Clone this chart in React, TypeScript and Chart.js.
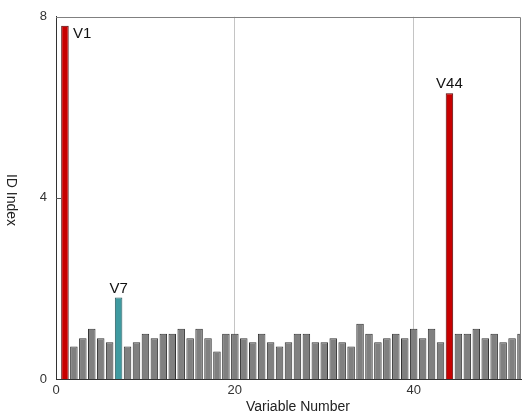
import React, { useEffect, useRef } from "react";
import { Chart, registerables } from "chart.js";

Chart.register(...registerables);

const variables: number[] = Array.from({ length: 52 }, (_, i) => i + 1);
const idIndex: number[] = [
  7.8, 0.72, 0.9, 1.11, 0.9, 0.81, 1.8, 0.72, 0.81, 1.0,
  0.9, 1.0, 1.0, 1.11, 0.9, 1.11, 0.9, 0.61, 1.0, 1.0,
  0.9, 0.81, 1.0, 0.81, 0.72, 0.81, 1.0, 1.0, 0.81, 0.81,
  0.9, 0.81, 0.72, 1.22, 1.0, 0.81, 0.9, 1.0, 0.9, 1.11,
  0.9, 1.11, 0.81, 6.31, 1.0, 1.0, 1.11, 0.9, 1.0, 0.81,
  0.9, 1.0,
];
const highlightRed: number[] = [1, 44];
const highlightTeal: number[] = [7];
const xTicks: number[] = [0, 20, 40];
const yTicks: number[] = [0, 4, 8];

const FONT = "'Liberation Sans', Arial, sans-serif";

export default function App() {
  const ref = useRef<HTMLCanvasElement>(null);

  useEffect(() => {
    if (!ref.current) return;
    const fill = variables.map((v) =>
      highlightRed.includes(v) ? "#c80000" : highlightTeal.includes(v) ? "#3f9aa0" : "#808080"
    );
    const border = variables.map((v) =>
      highlightRed.includes(v) ? "#500000" : highlightTeal.includes(v) ? "#2c5c60" : "#333333"
    );

    const overlay = {
      id: "overlay",
      afterDatasetsDraw(chart: any) {
        const { ctx, chartArea } = chart;
        const ys = chart.scales.y;
        ctx.save();
        // top and right border
        ctx.strokeStyle = "#808080";
        ctx.lineWidth = 1;
        ctx.beginPath();
        ctx.moveTo(chartArea.left, Math.round(chartArea.top) + 0.5);
        ctx.lineTo(Math.round(chartArea.right) - 0.5, Math.round(chartArea.top) + 0.5);
        ctx.lineTo(Math.round(chartArea.right) - 0.5, chartArea.bottom);
        ctx.stroke();
        // inward y ticks
        ctx.strokeStyle = "#555";
        [4].forEach((t) => {
          const y = Math.round(ys.getPixelForValue(t)) + 0.5;
          ctx.beginPath();
          ctx.moveTo(chartArea.left, y);
          ctx.lineTo(chartArea.left + 5, y);
          ctx.stroke();
        });
        // bar labels
        const meta = chart.getDatasetMeta(0);
        ctx.fillStyle = "#111";
        ctx.font = `15px ${FONT}`;
        variables.forEach((v, i) => {
          if (!highlightRed.includes(v) && !highlightTeal.includes(v)) return;
          const bar = meta.data[i];
          const label = "V" + v;
          if (i === 0) {
            ctx.textAlign = "left";
            ctx.textBaseline = "top";
            ctx.fillText(label, bar.x + 8, bar.y + 1);
          } else {
            ctx.textAlign = "center";
            ctx.textBaseline = "alphabetic";
            ctx.fillText(label, bar.x, bar.y - 5);
          }
        });
        // y axis title rotated clockwise
        ctx.save();
        ctx.translate(11, 200);
        ctx.rotate(Math.PI / 2);
        ctx.textAlign = "center";
        ctx.textBaseline = "middle";
        ctx.font = `14px ${FONT}`;
        ctx.fillStyle = "#222";
        ctx.fillText("ID Index", 0, 0);
        ctx.restore();
        // x axis title
        ctx.textAlign = "center";
        ctx.textBaseline = "middle";
        ctx.font = `14px ${FONT}`;
        ctx.fillStyle = "#222";
        ctx.fillText("Variable Number", 298, 407);
        ctx.restore();
      },
    };

    const chart = new Chart(ref.current, {
      type: "bar",
      data: {
        datasets: [
          {
            data: variables.map((v, i) => ({ x: v, y: idIndex[i] })),
            backgroundColor: fill,
            borderColor: border,
            borderWidth: 1,
            barPercentage: 0.84,
            categoryPercentage: 1.0,
          },
        ],
      },
      options: {
        animation: false,
        responsive: false,
        devicePixelRatio: 1,
        layout: { padding: { top: 12, right: 2, left: 0, bottom: 0 } },
        plugins: { legend: { display: false }, tooltip: { enabled: false } },
        scales: {
          x: {
            type: "linear",
            min: 0,
            max: 52,
            offset: false,
            afterBuildTicks: (s: any) => {
              s.ticks = xTicks.map((value) => ({ value }));
            },
            afterFit: (s: any) => {
              s.height = 37;
            },
            ticks: {
              color: "#333",
              font: { family: FONT, size: 13 },
              padding: 4,
              maxRotation: 0,
            },
            grid: {
              offset: false,
              drawTicks: false,
              color: (c: any) => (c.tick && c.tick.value === 0 ? "rgba(0,0,0,0)" : "#c4c4c4"),
            },
            border: { display: true, color: "#333", width: 1 },
          },
          y: {
            type: "linear",
            min: 0,
            max: 8,
            afterBuildTicks: (s: any) => {
              s.ticks = yTicks.map((value) => ({ value }));
            },
            afterFit: (s: any) => {
              s.width = 56;
            },
            ticks: {
              color: "#333",
              font: { family: FONT, size: 13 },
              padding: 9,
            },
            grid: { display: false, drawTicks: false },
            border: { display: true, color: "#333", width: 1 },
          },
        },
      },
      plugins: [overlay],
    });
    return () => chart.destroy();
  }, []);

  return (
    <canvas
      ref={ref}
      width={523}
      height={416}
      style={{ position: "absolute", left: 0, top: 0, width: 523, height: 416 }}
    />
  );
}
